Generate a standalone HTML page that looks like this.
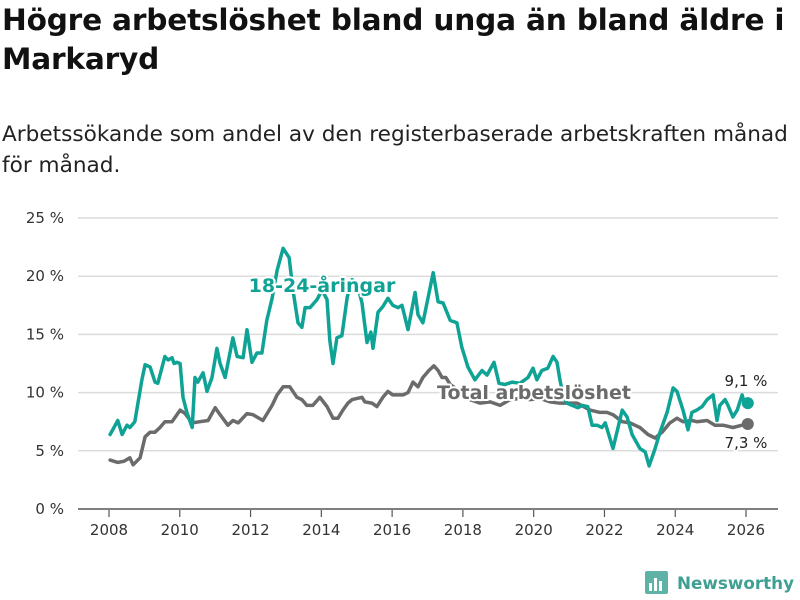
<!DOCTYPE html>
<html><head><meta charset="utf-8">
<style>
body{margin:0;background:#fff;font-family:"Liberation Sans","DejaVu Sans",sans-serif;}
#wrap{position:relative;width:800px;height:600px;overflow:hidden;}
h1{position:absolute;left:2px;top:1px;margin:0;font-family:"DejaVu Sans","Liberation Sans",sans-serif;font-size:29.6px;line-height:39px;font-weight:bold;color:#111;width:800px;letter-spacing:-0.2px;white-space:nowrap}
.sub{position:absolute;left:2px;top:119px;margin:0;font-family:"DejaVu Sans","Liberation Sans",sans-serif;font-size:21.6px;line-height:31px;color:#222;width:820px;white-space:nowrap}
svg text{font-family:"DejaVu Sans","Liberation Sans",sans-serif}
</style></head><body>
<div id="wrap">
<h1>Högre arbetslöshet bland unga än bland äldre i<br>Markaryd</h1>
<p class="sub">Arbetssökande som andel av den registerbaserade arbetskraften månad<br>för månad.</p>
<svg id="chart" width="800" height="600" style="position:absolute;left:0;top:0"></svg>
</div>
<script>
const yTicks=[0,5,10,15,20,25];
const yTickLabels=["0 %","5 %","10 %","15 %","20 %","25 %"];
const xTicks=[2008,2010,2012,2014,2016,2018,2020,2022,2024,2026];
const youthDates=[2008.03,2008.25,2008.37,2008.51,2008.59,2008.73,2008.93,2009.02,2009.16,2009.30,2009.38,2009.58,2009.67,2009.78,2009.84,2009.92,2010.01,2010.09,2010.20,2010.35,2010.43,2010.51,2010.66,2010.77,2010.91,2011.05,2011.14,2011.28,2011.50,2011.62,2011.79,2011.90,2012.04,2012.18,2012.32,2012.46,2012.61,2012.75,2012.92,2013.09,2013.20,2013.34,2013.45,2013.54,2013.68,2013.88,2014.02,2014.16,2014.24,2014.33,2014.44,2014.58,2014.73,2014.87,2015.01,2015.15,2015.29,2015.40,2015.46,2015.60,2015.74,2015.88,2016.02,2016.17,2016.28,2016.45,2016.65,2016.73,2016.87,2017.16,2017.30,2017.44,2017.64,2017.83,2017.97,2018.14,2018.34,2018.54,2018.68,2018.88,2019.02,2019.19,2019.39,2019.61,2019.84,2019.98,2020.09,2020.23,2020.40,2020.55,2020.66,2020.74,2020.83,2020.94,2021.25,2021.37,2021.53,2021.65,2021.79,2021.93,2022.02,2022.24,2022.50,2022.64,2022.78,2023.00,2023.15,2023.26,2023.43,2023.57,2023.77,2023.94,2024.05,2024.22,2024.36,2024.47,2024.61,2024.76,2024.90,2025.07,2025.18,2025.26,2025.41,2025.49,2025.63,2025.75,2025.89,2025.97,2026.05];
const youthValues=[6.4,7.6,6.4,7.2,7.0,7.5,11.1,12.4,12.2,10.9,10.8,13.1,12.8,13.0,12.5,12.6,12.5,9.6,8.3,7.0,11.3,10.9,11.7,10.1,11.3,13.8,12.5,11.3,14.7,13.1,13.0,15.4,12.6,13.4,13.4,16.2,18.1,20.5,22.4,21.6,18.8,16.0,15.6,17.3,17.3,18.0,18.8,18.0,14.5,12.5,14.7,14.9,18.2,19.7,19.4,17.7,14.3,15.2,13.8,16.9,17.4,18.1,17.5,17.3,17.5,15.4,18.6,16.7,16.0,20.3,17.8,17.7,16.2,16.0,13.9,12.2,11.1,11.9,11.5,12.6,10.8,10.7,10.9,10.8,11.3,12.1,11.1,11.9,12.1,13.1,12.6,11.1,9.8,9.1,8.7,8.9,8.8,7.2,7.2,7.0,7.4,5.2,8.5,7.9,6.4,5.2,4.9,3.7,5.2,6.6,8.3,10.4,10.1,8.5,6.8,8.3,8.5,8.8,9.4,9.8,7.6,8.9,9.4,8.9,7.9,8.5,9.8,8.9,9.1];
const totalDates=[2008.03,2008.25,2008.42,2008.59,2008.68,2008.88,2009.02,2009.16,2009.30,2009.44,2009.58,2009.78,2010.01,2010.15,2010.35,2010.57,2010.80,2011.00,2011.14,2011.36,2011.50,2011.65,2011.90,2012.07,2012.35,2012.61,2012.75,2012.92,2013.11,2013.31,2013.45,2013.59,2013.76,2013.96,2014.16,2014.33,2014.47,2014.61,2014.75,2014.87,2015.01,2015.15,2015.23,2015.43,2015.57,2015.74,2015.88,2016.02,2016.31,2016.45,2016.59,2016.73,2016.87,2017.04,2017.18,2017.30,2017.41,2017.52,2017.64,2017.92,2018.20,2018.48,2018.77,2019.05,2019.33,2019.61,2019.90,2020.18,2020.46,2020.74,2020.94,2021.22,2021.59,2021.87,2022.07,2022.24,2022.50,2022.72,2023.00,2023.23,2023.43,2023.63,2023.85,2024.05,2024.22,2024.47,2024.61,2024.90,2025.12,2025.35,2025.63,2025.89,2026.05];
const totalValues=[4.2,4.0,4.1,4.4,3.8,4.4,6.2,6.6,6.6,7.0,7.5,7.5,8.5,8.2,7.4,7.5,7.6,8.7,8.1,7.2,7.6,7.4,8.2,8.1,7.6,8.9,9.8,10.5,10.5,9.6,9.4,8.9,8.9,9.6,8.8,7.8,7.8,8.5,9.1,9.4,9.5,9.6,9.2,9.1,8.8,9.6,10.1,9.8,9.8,10.0,10.9,10.5,11.3,11.9,12.3,11.9,11.3,11.3,10.7,10.1,9.4,9.1,9.2,8.9,9.4,9.5,9.4,9.5,9.2,9.1,9.1,9.1,8.5,8.3,8.3,8.1,7.5,7.4,7.0,6.4,6.1,6.6,7.4,7.8,7.5,7.6,7.5,7.6,7.2,7.2,7.0,7.2,7.3];

const NS="http://www.w3.org/2000/svg";
const svg=document.getElementById('chart');
const X=v=>109+(v-2008)*35.39;
const Y=v=>509-v*11.64;
function mk(tag,attrs,parent){const e=document.createElementNS(NS,tag);for(const k in attrs)e.setAttribute(k,attrs[k]);(parent||svg).appendChild(e);return e;}
const teal="#0fa396", gray="#6b6b6b";

yTicks.forEach((t,i)=>{
  if(t>0){const g=mk('line',{x1:78,x2:778,y1:Y(t),y2:Y(t),stroke:'#dcdcdc','stroke-width':1.5});
  
  }
  const tx=mk('text',{x:64,y:Y(t)+5,'text-anchor':'end','font-size':15,fill:'#333'});
  tx.textContent=yTickLabels[i];
  
  
});
const ax=mk('line',{x1:78,x2:778,y1:Y(0),y2:Y(0),stroke:'#555','stroke-width':1.5});


xTicks.forEach(t=>{
  const tk=mk('line',{x1:X(t),x2:X(t),y1:510,y2:517,stroke:'#555','stroke-width':1.2});
  
  
  const tx=mk('text',{x:X(t),y:535,'text-anchor':'middle','font-size':15,fill:'#333'});
  tx.textContent=t;
  
  
});
function line(dates,vals,color,name){
  const d=dates.map((t,i)=>(i?'L':'M')+X(t).toFixed(1)+','+Y(vals[i]).toFixed(1)).join('');
  const p=mk('path',{d:d,fill:'none',stroke:color,'stroke-width':3.5,'stroke-linejoin':'round','stroke-linecap':'round'});
  
  
  const n=dates.length-1;
  const c=mk('circle',{cx:X(dates[n]),cy:Y(vals[n]),r:6,fill:color});
  
  
}
line(totalDates,totalValues,gray,'total-line');
line(youthDates,youthValues,teal,'youth-line');
function label(x,y,txt,color,size,weight,anchor,name){
  const t=mk('text',{x:x,y:y,'text-anchor':anchor,'font-size':size,'font-weight':weight,fill:color,stroke:'#fff','stroke-width':4,'paint-order':'stroke','stroke-linejoin':'round'});
  t.textContent=txt;
  
  
}
label(322,292,'18-24-åringar',teal,19,'bold','middle','youth-series-label');
label(534,399,'Total arbetslöshet',gray,19,'bold','middle','total-series-label');
label(746,386,'9,1 %','#222',15,'normal','middle','youth-end-value');
label(746,448,'7,3 %','#222',15,'normal','middle','total-end-value');

const lg=mk('g',{});


mk('rect',{x:645,y:571,width:23,height:23,rx:2,fill:'#5fb3a6'},lg);
mk('rect',{x:649,y:583,width:3,height:8,fill:'#fff'},lg);
mk('rect',{x:654,y:578,width:3,height:13,fill:'#fff'},lg);
mk('rect',{x:659,y:581,width:3,height:10,fill:'#fff'},lg);
const lt=mk('text',{x:677,y:589,'font-size':17,'font-weight':'bold',fill:'#3f9f93',textLength:117,lengthAdjust:'spacingAndGlyphs'},lg);
lt.textContent='Newsworthy';
</script>
</body></html>
